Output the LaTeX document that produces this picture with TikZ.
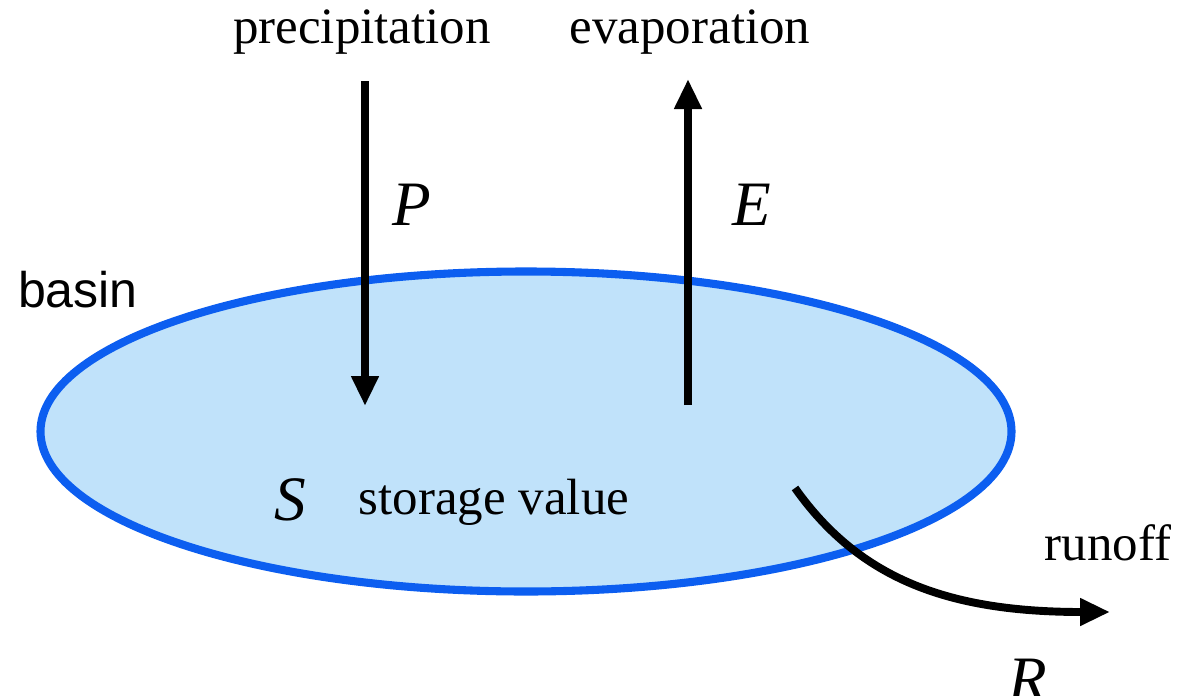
\documentclass[tikz,border=0pt]{standalone}
\usepackage{fontspec}
\setmainfont{Liberation Serif}
\setsansfont{Liberation Sans}
\usetikzlibrary{arrows.meta}

\definecolor{basinedge}{RGB}{12,94,240}
\definecolor{basinfill}{RGB}{192,226,250}

\begin{document}
\begin{tikzpicture}[>={Triangle[length=0.6cm,width=0.52cm]},
    flow/.style={line width=4.5pt,->},
    lbl/.style={font=\fontsize{29}{34}\selectfont},
    sym/.style={font=\fontsize{36}{40}\selectfont\itshape}]
      \useasboundingbox (0,0) rectangle (24.08,13.9);
      % basin
      \draw[basinedge,fill=basinfill,line width=4.6pt] (10.52,5.27) ellipse (9.71 and 3.2);
      \node[font=\sffamily\fontsize{28.5}{32}\selectfont] (basin) at (1.56,8.1) {basin};
      % fluxes
      \coordinate (pTop) at (7.3,12.28);
      \coordinate (pTip) at (7.3,5.78);
      \coordinate (eBot) at (13.76,5.8);
      \coordinate (eTip) at (13.76,12.32);
      \coordinate (rStart) at (15.9,4.14);
      \coordinate (rTip) at (22.2,1.66);
      \draw[flow] (pTop) -- (pTip);
      \draw[flow] (eBot) -- (eTip);
      \draw[flow] (rStart) .. controls (17.2,2.3) and (19,1.66) .. (rTip);
      \node[lbl] (precip) at (7.24,13.26) {precipitation};
      \node[lbl] (evap) at (13.8,13.26) {evaporation};
      \node[sym] (P) at (8.24,9.8) {P};
      \node[sym] (E) at (15.04,9.8) {E};
      \node[sym] (S) at (5.8,3.9) {S};
      \node[lbl] (store) at (9.88,3.86) {storage value};
      \node[lbl] (runoff) at (22.16,3.04) {runoff};
      \node[sym] (R) at (20.56,0.3) {R};
    \end{tikzpicture}
\end{document}
